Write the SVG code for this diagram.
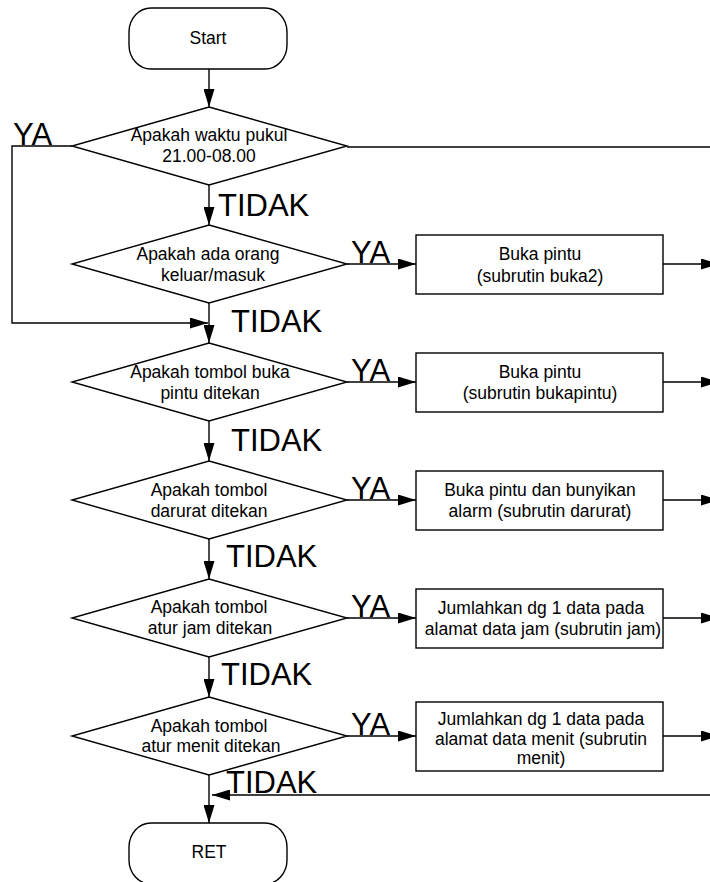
<svg xmlns="http://www.w3.org/2000/svg" width="710" height="882" viewBox="0 0 710 882">
  <defs>
    <marker id="arrow" markerUnits="userSpaceOnUse" markerWidth="18" markerHeight="11" refX="18" refY="5.5" orient="auto">
      <path d="M0,0 L18,5.5 L0,11 z" fill="#000"/>
    </marker>
    <style>
      .shape { fill: #fff; stroke: #000; stroke-width: 1.4; }
      .line { fill: none; stroke: #000; stroke-width: 1.4; }
      .arr { marker-end: url(#arrow); }
      .t { font-family: "Liberation Sans", Arial, sans-serif; font-size: 17.5px; fill: #000; text-anchor: middle; }
      .lbl { font-family: "Liberation Sans", Arial, sans-serif; font-size: 31px; fill: #000; }
    </style>
  </defs>
  <rect width="710" height="882" fill="#fff"/>

  <!-- connectors -->
  <g id="connectors">
    <path class="line arr" d="M209,69 V107"/>
    <path class="line arr" d="M209,185 V225"/>
    <path class="line arr" d="M72,146 H12 V323 H208"/>
    <path class="line" d="M347,147 H712"/>
    <path class="line arr" d="M209,303 V343"/>
    <path class="line arr" d="M209,421 V461"/>
    <path class="line arr" d="M209,539 V579"/>
    <path class="line arr" d="M209,657 V697"/>
    <path class="line arr" d="M209,775 V823"/>
    <path class="line arr" d="M712,795 H212"/>
    <!-- YA branches -->
    <path class="line arr" d="M347,264 H416"/>
    <path class="line arr" d="M347,382 H416"/>
    <path class="line arr" d="M347,500 H416"/>
    <path class="line arr" d="M347,618 H416"/>
    <path class="line arr" d="M347,736 H416"/>
    <!-- returns from subroutines -->
    <path class="line arr" d="M663,264 H719"/>
    <path class="line arr" d="M663,382 H719"/>
    <path class="line arr" d="M663,500 H719"/>
    <path class="line arr" d="M663,618 H719"/>
    <path class="line arr" d="M663,736 H719"/>
    <!-- branch labels -->
    <text class="lbl" x="13" y="145">YA</text>
    <text class="lbl" x="218" y="216">TIDAK</text>
    <text class="lbl" x="351" y="263">YA</text>
    <text class="lbl" x="231" y="332">TIDAK</text>
    <text class="lbl" x="351" y="381">YA</text>
    <text class="lbl" x="231" y="451">TIDAK</text>
    <text class="lbl" x="351" y="499">YA</text>
    <text class="lbl" x="226" y="567">TIDAK</text>
    <text class="lbl" x="351" y="617">YA</text>
    <text class="lbl" x="221" y="685">TIDAK</text>
    <text class="lbl" x="351" y="735">YA</text>
    <text class="lbl" x="226" y="793">TIDAK</text>
  </g>

  <g id="start">
    <rect class="shape" x="129" y="8" width="158" height="61" rx="22" ry="24"/>
    <text class="t" x="208" y="44">Start</text>
  </g>

  <g id="cek-waktu">
    <polygon class="shape" points="209,107 347,146 209,185 72,146"/>
    <text class="t" x="209" y="141">Apakah waktu pukul</text>
    <text class="t" x="209" y="162">21.00-08.00</text>
  </g>

  <g id="cek-orang">
    <polygon class="shape" points="209,225 347,264 209,303 72,264"/>
    <text class="t" x="208" y="260">Apakah ada orang</text>
    <text class="t" x="213" y="281">keluar/masuk</text>
  </g>

  <g id="buka2">
    <rect class="shape" x="416" y="235" width="247" height="59"/>
    <text class="t" x="540" y="260">Buka pintu</text>
    <text class="t" x="540" y="282">(subrutin buka2)</text>
  </g>

  <g id="cek-buka-pintu">
    <polygon class="shape" points="209,343 347,382 209,421 72,382"/>
    <text class="t" x="210" y="378">Apakah tombol buka</text>
    <text class="t" x="210" y="399">pintu ditekan</text>
  </g>

  <g id="bukapintu">
    <rect class="shape" x="416" y="353" width="247" height="59"/>
    <text class="t" x="540" y="378">Buka pintu</text>
    <text class="t" x="540" y="399">(subrutin bukapintu)</text>
  </g>

  <g id="cek-darurat">
    <polygon class="shape" points="209,461 347,500 209,539 72,500"/>
    <text class="t" x="209" y="496">Apakah tombol</text>
    <text class="t" x="209" y="517">darurat ditekan</text>
  </g>

  <g id="darurat">
    <rect class="shape" x="416" y="471" width="247" height="59"/>
    <text class="t" x="540" y="496">Buka pintu dan bunyikan</text>
    <text class="t" x="540" y="517">alarm (subrutin darurat)</text>
  </g>

  <g id="cek-jam">
    <polygon class="shape" points="209,579 347,618 209,657 72,618"/>
    <text class="t" x="209" y="613">Apakah tombol</text>
    <text class="t" x="210" y="634">atur jam ditekan</text>
  </g>

  <g id="jam">
    <rect class="shape" x="416" y="589" width="247" height="59"/>
    <text class="t" x="541" y="614">Jumlahkan dg 1 data pada</text>
    <text class="t" x="543" y="635">alamat data jam (subrutin jam)</text>
  </g>

  <g id="cek-menit">
    <polygon class="shape" points="209,697 347,736 209,775 72,736"/>
    <text class="t" x="209" y="732">Apakah tombol</text>
    <text class="t" x="211" y="752">atur menit ditekan</text>
  </g>

  <g id="menit">
    <rect class="shape" x="416" y="702" width="247" height="69"/>
    <text class="t" x="541" y="725">Jumlahkan dg 1 data pada</text>
    <text class="t" x="541" y="745">alamat data menit (subrutin</text>
    <text class="t" x="541" y="764">menit)</text>
  </g>

  <g id="ret">
    <rect class="shape" x="129" y="823" width="158" height="61" rx="22" ry="24"/>
    <text class="t" x="209" y="858">RET</text>
  </g>
</svg>
